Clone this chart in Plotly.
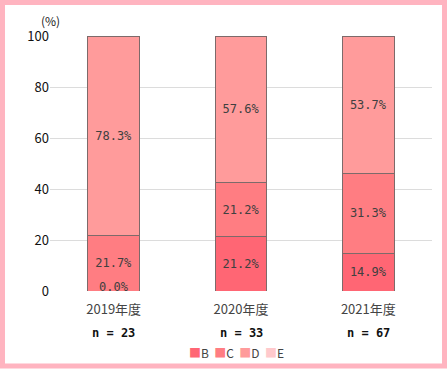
import plotly.graph_objects as go

categories = ["2019年度", "2020年度", "2021年度"]
n_values = [23, 33, 67]
series_names = ["B", "C", "D", "E"]
series_values = {
    "B": [0.0, 21.2, 14.9],
    "C": [21.7, 21.2, 31.3],
    "D": [78.3, 57.6, 53.7],
    "E": [None, None, None],
}
series_colors = {"B": "#ff6674", "C": "#ff7d82", "D": "#ff9b9b", "E": "#ffc9cc"}
y_ticks = [0, 20, 40, 60, 80, 100]

JP = "Noto Sans CJK JP, Noto Sans, sans-serif"
MONO = "DejaVu Sans Mono, monospace"

L, R, T, B = 50, 16, 36, 79
W, H = 448, 370
pw, ph = W - L - R, H - T - B
def px(x):
    return (x - L) / pw
def py(y):
    return (H - B - y) / ph

fig = go.Figure()
for name in series_names:
    vals = series_values[name]
    fig.add_trace(go.Bar(
        x=categories, y=vals, name=name,
        marker=dict(color=series_colors[name], line=dict(color="#7d6a6a", width=1)),
        texttemplate="%{y:.1f}%", textposition="inside", insidetextanchor="middle",
        textfont=dict(family=MONO, size=12, color="#404040"),
        constraintext="none",
        showlegend=False, hoverinfo="skip",
    ))

annotations = []
# labels for zero-height segments
for name in series_names:
    for cat, v in zip(categories, series_values[name]):
        if v is not None and v == 0:
            annotations.append(dict(x=cat, y=0, xref="x", yref="y", text=f"{v:.1f}%",
                                    showarrow=False, yshift=4,
                                    font=dict(family=MONO, size=12, color="#404040")))
# n labels
for cat, n in zip(categories, n_values):
    annotations.append(dict(x=cat, y=py(333), xref="x", yref="paper", text=f"<b>n = {n}</b>",
                            showarrow=False, yanchor="middle",
                            font=dict(family=MONO, size=12, color="#111111")))
# legend
legend_txt = "&nbsp;&nbsp;".join(
    f"<span style='color:{series_colors[nm]}'>■</span>{nm}" for nm in series_names)
annotations.append(dict(x=px(236), y=py(352), xref="paper", yref="paper", text=legend_txt,
                        showarrow=False, yanchor="middle", xanchor="center",
                        font=dict(family=JP, size=12, color="#444444")))
# unit
annotations.append(dict(x=0.0, y=py(20), xref="paper", yref="paper", text="(%)",
                        showarrow=False, yanchor="middle", xanchor="center",
                        font=dict(family=JP, size=12, color="#222222")))

fig.add_shape(type="rect", xref="paper", yref="paper",
              x0=px(2.5), x1=px(444.5), y0=py(366), y1=py(2.5),
              line=dict(color="#ffb4c0", width=5), layer="below")

fig.update_layout(
    width=W, height=H,
    margin=dict(l=L, r=R, t=T, b=B),
    barmode="stack", bargap=0.594,
    plot_bgcolor="white", paper_bgcolor="white",
    xaxis=dict(showgrid=False, showline=False, ticks="", ticklabelstandoff=9,
               tickfont=dict(family=JP, size=13, color="#444444")),
    yaxis=dict(range=[0, 100], tickvals=y_ticks, showgrid=True, gridcolor="#dcdcdc",
               gridwidth=1, zeroline=False, showline=False, ticks="",
               tickfont=dict(family=JP, size=13, color="#111111")),
    annotations=annotations,
    showlegend=False,
)

fig.write_html("out.html", config={"displayModeBar": False},
               post_script="document.body.style.margin='0';")
